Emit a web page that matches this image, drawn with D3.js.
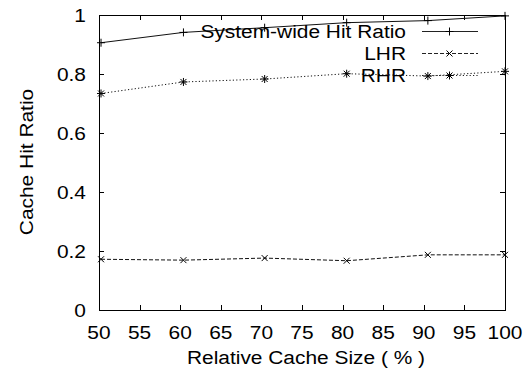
<!DOCTYPE html>
<html>
<head>
<meta charset="utf-8">
<script src="https://cdn.jsdelivr.net/npm/d3@7"></script>
<style>
  body { margin: 0; background: #fff; }
  text { font-family: "Liberation Sans", Arial, sans-serif; fill: #000; font-size: 19px; }
</style>
</head>
<body>
<div id="wrapper"></div>
<script>
// data
const cacheSizes = [50.25, 60.4, 70.4, 80.5, 90.5, 100]
const systemHit = [0.906, 0.941, 0.957, 0.974, 0.981, 0.997]
const lhr = [0.172, 0.169, 0.176, 0.167, 0.187, 0.187]
const rhr = [0.734, 0.773, 0.783, 0.801, 0.793, 0.809]
const xTicks = [50, 55, 60, 65, 70, 75, 80, 85, 90, 95, 100]
const yTicks = [0, 0.2, 0.4, 0.6, 0.8, 1]
const seriesNames = ["System-wide Hit Ratio", "LHR", "RHR"]

function drawChart() {
  const dimensions = {
    width: 531,
    height: 376,
    margin: { top: 15, right: 26, bottom: 66, left: 99 },
  }
  dimensions.boundedWidth = dimensions.width - dimensions.margin.left - dimensions.margin.right
  dimensions.boundedHeight = dimensions.height - dimensions.margin.top - dimensions.margin.bottom

  // the postscript font in the picture is a bit wider than Arial
  const stretch = 1.1

  const wrapper = d3.select("#wrapper")
    .append("svg")
      .attr("width", dimensions.width)
      .attr("height", dimensions.height)

  const bounds = wrapper.append("g")
      .attr("transform", `translate(${dimensions.margin.left},${dimensions.margin.top})`)

  const xScale = d3.scaleLinear().domain([50, 100]).range([0, dimensions.boundedWidth])
  const yScale = d3.scaleLinear().domain([0, 1]).range([dimensions.boundedHeight, 0])

  const series = [
    { name: seriesNames[0], values: systemHit, dash: null, marker: "plus" },
    { name: seriesNames[1], values: lhr, dash: "4,2", marker: "cross" },
    { name: seriesNames[2], values: rhr, dash: "1.2,2.2", marker: "star" },
  ]

  // ticks (inward, mirrored on all sides)
  const tickLen = 5
  const ticks = bounds.append("g").attr("stroke", "#000").attr("stroke-width", 1)
  xTicks.forEach(t => {
    const x = Math.round(xScale(t)) + 0.5
    ticks.append("line").attr("x1", x).attr("x2", x)
      .attr("y1", dimensions.boundedHeight).attr("y2", dimensions.boundedHeight - tickLen)
    ticks.append("line").attr("x1", x).attr("x2", x).attr("y1", 0).attr("y2", tickLen)
  })
  yTicks.forEach(t => {
    const y = Math.round(yScale(t)) + 0.5
    ticks.append("line").attr("x1", 0).attr("x2", tickLen).attr("y1", y).attr("y2", y)
    ticks.append("line").attr("x1", dimensions.boundedWidth).attr("x2", dimensions.boundedWidth - tickLen)
      .attr("y1", y).attr("y2", y)
  })

  // tick labels
  bounds.append("g").selectAll("text")
    .data(xTicks)
    .join("text")
      .attr("transform", d => `translate(${xScale(d)},${dimensions.boundedHeight + 29}) scale(${stretch},1)`)
      .attr("text-anchor", "middle")
      .text(d => d)

  bounds.append("g").selectAll("text")
    .data(yTicks)
    .join("text")
      .attr("transform", d => `translate(-13,${yScale(d)}) scale(${stretch},1)`)
      .attr("dy", "0.35em")
      .attr("text-anchor", "end")
      .text(d => d)

  // axis titles
  wrapper.append("text")
      .attr("transform", `translate(306,364) scale(${stretch},1)`)
      .attr("text-anchor", "middle")
      .text("Relative Cache Size ( % )")

  wrapper.append("text")
      .attr("transform", `translate(33,162) rotate(-90) scale(${stretch},1)`)
      .attr("text-anchor", "middle")
      .text("Cache Hit Ratio")

  // markers
  const markerPath = (type, s) => {
    const p = d3.path()
    if (type === "plus" || type === "star") {
      p.moveTo(-s, 0); p.lineTo(s, 0)
      p.moveTo(0, -s); p.lineTo(0, s)
    }
    if (type === "cross" || type === "star") {
      const c = s * 0.75
      p.moveTo(-c, -c); p.lineTo(c, c)
      p.moveTo(-c, c); p.lineTo(c, -c)
    }
    return p.toString()
  }

  const lineGen = d3.line()
    .x((d, i) => xScale(cacheSizes[i]))
    .y(d => yScale(d))

  // legend
  const legendX = 406
  const legendRows = [38, 60, 82]
  series.forEach((s, i) => {
    const y = legendRows[i]
    wrapper.append("text")
        .attr("transform", `translate(${legendX},${y}) scale(${stretch},1)`)
        .attr("text-anchor", "end")
        .text(s.name)
    const ly = y - 6.5
    wrapper.append("line")
        .attr("x1", 422).attr("x2", 478)
        .attr("y1", ly).attr("y2", ly)
        .attr("stroke", "#222")
        .attr("stroke-width", 1)
        .attr("stroke-dasharray", s.dash)
    wrapper.append("path")
        .attr("transform", `translate(449.5,${ly})`)
        .attr("d", markerPath(s.marker, 4))
        .attr("stroke", "#000")
        .attr("fill", "none")
  })

  // series
  series.forEach(s => {
    bounds.append("path")
        .datum(s.values)
        .attr("d", lineGen)
        .attr("fill", "none")
        .attr("stroke", "#111")
        .attr("stroke-width", 1)
        .attr("stroke-dasharray", s.dash)
    bounds.append("g").selectAll("path")
      .data(s.values)
      .join("path")
        .attr("transform", (d, i) => `translate(${xScale(cacheSizes[i])},${yScale(d)})`)
        .attr("d", markerPath(s.marker, 4))
        .attr("stroke", "#000")
        .attr("fill", "none")
  })

  // frame
  bounds.append("rect")
      .attr("x", 0.5).attr("y", 0.5)
      .attr("width", dimensions.boundedWidth)
      .attr("height", dimensions.boundedHeight)
      .attr("fill", "none")
      .attr("stroke", "#000")
      .attr("stroke-width", 1)
}

drawChart()
</script>
</body>
</html>
